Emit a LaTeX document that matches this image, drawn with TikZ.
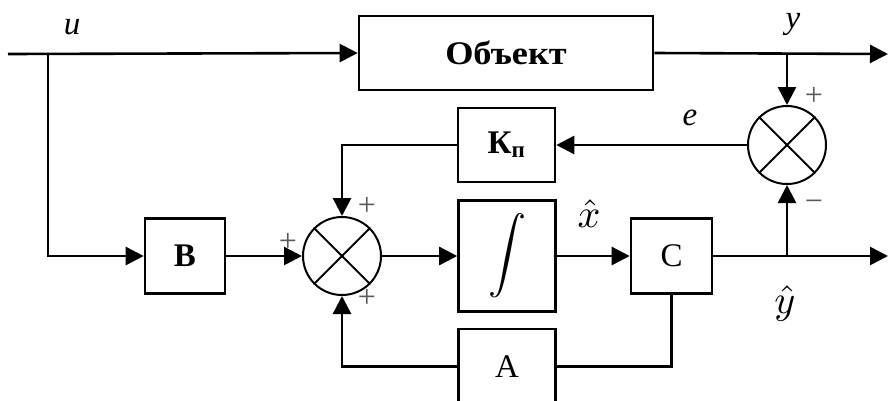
\documentclass[tikz,border=0pt]{standalone}
\usepackage{fontspec}
\setmainfont{Liberation Serif}
\usetikzlibrary{arrows.meta,positioning}
\newcommand{\bigmath}[2]{\scalebox{#1}{\normalsize$#2$}}

\begin{document}
\begin{tikzpicture}[x=1pt,y=-1pt,
  font=\fontsize{33}{38}\selectfont,
  block/.style={draw,line width=2.6pt,minimum width=97pt,minimum height=74pt,inner sep=0pt},
  summer/.style={draw,circle,line width=2pt,minimum size=78pt,inner sep=0pt},
  sign/.style={font=\fontsize{32}{34}\selectfont,text=black!65},
  lbl/.style={font=\fontsize{33}{38}\selectfont\itshape},
  wire/.style={line width=2.6pt},
  arrow/.style={wire,-{Triangle[length=18pt,width=18pt]}}]
\clip (0,0) rectangle (896,400);
\node[block,minimum width=294pt](object) at (506,53){\textbf{\scalebox{1.1}[1]{Объект}}};
\node[block](gain) at (506.5,145){\textbf{К\textsubscript{п}}};
\node[block,minimum height=111pt](integ) at (507,256){\bigmath{3.8}{\displaystyle\int}};
\node[block,minimum width=80pt,minimum height=75pt](Bblk) at (185,256){\textbf{B}};
\node[block,minimum width=81pt,minimum height=75pt](Cblk) at (671.5,256){C};
\node[block,minimum height=75pt](Ablk) at (507,366.5){A};
\node[summer](sumA) at (342,256){};
\node[summer](sumB) at (787,145){};
\foreach \s in {sumA,sumB}{
  \draw[line width=2pt](\s.45)--(\s.225);\draw[line width=2pt](\s.135)--(\s.-45);}
\coordinate(uin) at (8,54);\coordinate(ubr) at (48,54);
\coordinate(yout) at (888,54);\coordinate(ybr) at (787,54);
\coordinate(yhout) at (888,256);\coordinate(yhbr) at (787,256);
% plant and input branch
\draw[arrow](uin)--(object.west);\draw[arrow](ubr)|-(Bblk.west);
\draw[arrow](object.east)--(yout);\draw[arrow](ybr)--(sumB.north);
% observer loop
\draw[arrow](Bblk)--(sumA);\draw[arrow](sumA)--(integ);\draw[arrow](integ)--(Cblk);
\draw[arrow](Cblk.east)--(yhout);\draw[arrow](yhbr)--(sumB.south);
\draw[arrow](sumB.west)--(gain.east);\draw[arrow](gain.west)-|(sumA.north);
\draw[wire](Cblk.south)|-(Ablk.east);\draw[arrow](Ablk.west)-|(sumA.south);
% labels
\node[lbl](ulbl) at (72,27){u};\node[lbl](ylbl) at (793,24){y};
\node[lbl](elbl) at (690,118){e};
\node(xhlbl) at (589,214){\bigmath{4}{\hat{x}}};\node(yhlbl) at (785,303){\bigmath{4}{\hat{y}}};
\node[sign](pB) at (814,96){+};\node[sign](mB) at (814,206){\textminus};
\node[sign](pA1) at (367,206){+};\node[sign](pA2) at (288,242){+};\node[sign](pA3) at (367,298){+};
\end{tikzpicture}
\end{document}
